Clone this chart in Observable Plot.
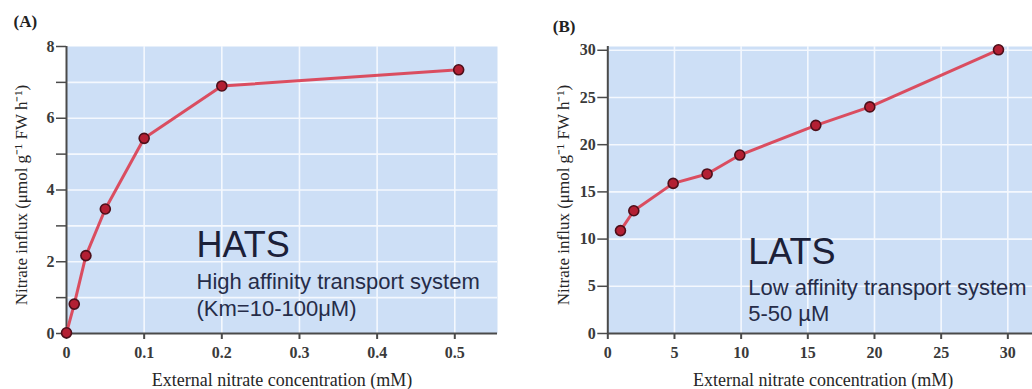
<!DOCTYPE html>
<html><head><meta charset="utf-8">
<script src="https://cdn.jsdelivr.net/npm/d3@7"></script>
<script src="https://cdn.jsdelivr.net/npm/@observablehq/plot@0.6"></script>
<style>
body{margin:0;background:#fff;}
#wrap{position:relative;width:1032px;height:389px;overflow:hidden;background:#fff;}
#a{position:absolute;left:0;top:0;}
#b{position:absolute;left:520px;top:0;}
</style></head><body>
<div id="wrap"><div id="a"></div><div id="b"></div></div>
<script>
// ---- data ----
const hatsConc   = [0, 0.01, 0.025, 0.05, 0.1, 0.2, 0.505];
const hatsInflux = [0.02, 0.82, 2.17, 3.47, 5.44, 6.9, 7.35];
const latsConc   = [0.95, 1.95, 4.9, 7.45, 9.9, 15.6, 19.65, 29.3];
const latsInflux = [10.9, 13.0, 15.9, 16.9, 18.9, 22.05, 24.0, 30.05];
const hatsXTicks = [0, 0.1, 0.2, 0.3, 0.4, 0.5];
const hatsYTicks = [0, 1, 2, 3, 4, 5, 6, 7, 8];
const hatsYLabelled = [0, 2, 4, 6, 8];
const latsTicks = [0, 5, 10, 15, 20, 25, 30];
const panelLabels = ["(A)", "(B)"];
const xTitle = "External nitrate concentration (mM)";
const yTitle = "Nitrate influx (μmol g⁻¹ FW h⁻¹)";
const hatsNote = ["HATS", "High affinity transport system\n(Km=10-100μM)"];
const latsNote = ["LATS", "Low affinity transport system\n5-50 µM"];

// ---- styles ----
const BG = "#cddff6", AX = "#4a4a4a", RED = "#dc3d50";
const SERIF = "Liberation Serif, Times New Roman, serif";
const SANS = "Liberation Sans, Arial, sans-serif";
const NOTE = "#1b2038";

function panel({conc, influx, xDomain, yDomain, xTicks, yTicks, yFmt, gridX, gridY,
                width, marginLeft, marginRight, label, labelDx, labelDy, note, noteDx, noteDy, subDy, subLH, yTitleDx, xTitleDx}) {
  const idx = d3.range(conc.length);
  return Plot.plot({
    width, height: 389,
    marginLeft, marginRight, marginTop: 46, marginBottom: 56,
    x: {domain: xDomain, axis: null},
    y: {domain: yDomain, axis: null},
    style: {background: "transparent", fontFamily: SERIF, fontSize: "14px", fontWeight: "bold", color: "#3a3a3a", overflow: "visible"},
    marks: [
      Plot.frame({fill: BG, stroke: null}),
      Plot.gridX(gridX, {stroke: "#f4f8fe", strokeOpacity: 1, strokeWidth: 1.6}),
      Plot.gridY(gridY, {stroke: "#f4f8fe", strokeOpacity: 1, strokeWidth: 1.6}),
      Plot.ruleX([xDomain[0]], {stroke: AX, strokeWidth: 2}),
      Plot.ruleY([yDomain[0]], {stroke: AX, strokeWidth: 2}),
      Plot.axisX(xTicks, {tickSize: 6, tickPadding: 7, tickFormat: d => String(d), stroke: AX, strokeWidth: 2, fill: "#3a3a3a", fontSize: 16, fontWeight: "bold", fontFamily: SERIF}),
      Plot.axisY(yTicks, {tickSize: 10, tickPadding: 2, tickFormat: yFmt, stroke: AX, strokeWidth: 1.5, fill: "#3a3a3a", fontSize: 16, fontWeight: "bold", fontFamily: SERIF}),
      Plot.line(idx, {x: i => conc[i], y: i => influx[i], stroke: RED, strokeWidth: 3, strokeOpacity: 0.9}),
      Plot.dot(idx, {x: i => conc[i], y: i => influx[i], r: 5, fill: "#b31f33", stroke: "#4d0f1a", strokeWidth: 1.6}),
      Plot.text([label], {frameAnchor: "top-left", dx: labelDx, dy: labelDy, textAnchor: "start", lineAnchor: "middle", fontFamily: SERIF, fontWeight: "bold", fontSize: 17, fill: "#222"}),
      Plot.text([note[0]], {frameAnchor: "bottom-left", dx: noteDx, dy: noteDy, textAnchor: "start", lineAnchor: "bottom", fontFamily: SANS, fontWeight: "normal", fontSize: 36, fill: NOTE}),
      Plot.text([note[1]], {frameAnchor: "bottom-left", dx: noteDx, dy: subDy, textAnchor: "start", lineAnchor: "bottom", lineHeight: subLH, fontFamily: SANS, fontWeight: "normal", fontSize: 22, fill: "#262c48"}),
      Plot.text([yTitle], {frameAnchor: "left", dx: yTitleDx, dy: 5, rotate: -90, textAnchor: "middle", lineAnchor: "middle", fontFamily: SERIF, fontWeight: "normal", fontSize: 17, fill: "#262626"}),
      Plot.text([xTitle], {frameAnchor: "bottom", dx: xTitleDx, dy: 47, textAnchor: "middle", lineAnchor: "middle", fontFamily: SERIF, fontWeight: "normal", fontSize: 18, fill: "#262626"})
    ]
  });
}

document.getElementById("a").append(panel({
  conc: hatsConc, influx: hatsInflux, xDomain: [0, 0.555], yDomain: [0, 8],
  xTicks: hatsXTicks, yTicks: hatsYTicks, yFmt: d => hatsYLabelled.includes(d) ? String(d) : "",
  gridX: hatsXTicks.slice(1), gridY: hatsYTicks.slice(1, -1),
  width: 520, marginLeft: 66, marginRight: 23,
  label: panelLabels[0], labelDx: -53, labelDy: -25,
  note: hatsNote, noteDx: 130, noteDy: -76.5, subDy: -17.5, subLH: 1.23,
  yTitleDx: -45, xTitleDx: 0
}));

document.getElementById("b").append(panel({
  conc: latsConc, influx: latsInflux, xDomain: [0, 31.85], yDomain: [0, 30.4],
  xTicks: latsTicks, yTicks: latsTicks, yFmt: d => String(d),
  gridX: latsTicks.slice(1), gridY: latsTicks.slice(1),
  width: 512, marginLeft: 87.3, marginRight: 0,
  label: panelLabels[1], labelDx: -55, labelDy: -20,
  note: latsNote, noteDx: 140.4, noteDy: -70, subDy: -12.6, subLH: 1.17,
  yTitleDx: -44, xTitleDx: 3
}));
</script>
</body></html>
